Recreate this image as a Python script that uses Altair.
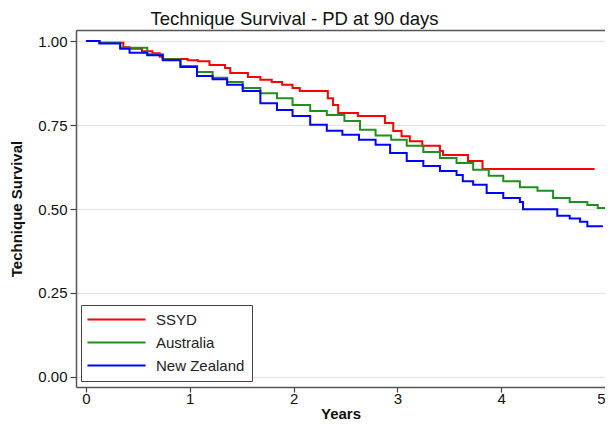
import altair as alt
import pandas as pd

groups = ["SSYD", "Australia", "New Zealand"]
colors = ["#ff0000", "#1f8f1f", "#0000ff"]

ssyd_years = [0, 0.13, 0.36, 0.42, 0.54, 0.64, 0.71, 0.74, 0.98, 1.08, 1.19, 1.34, 1.39,
              1.56, 1.68, 1.79, 1.89, 1.99, 2.06, 2.33, 2.38, 2.43, 2.62, 2.88, 2.96,
              3.04, 3.12, 3.24, 3.41, 3.44, 3.68, 3.82, 4.90]
ssyd_surv = [1.0, 0.995, 0.982, 0.977, 0.970, 0.964, 0.953, 0.947, 0.943, 0.940, 0.929,
             0.920, 0.905, 0.893, 0.885, 0.878, 0.870, 0.860, 0.851, 0.830, 0.810, 0.786,
             0.777, 0.756, 0.732, 0.717, 0.702, 0.688, 0.673, 0.661, 0.643, 0.619, 0.619]

aus_years = [0, 0.13, 0.33, 0.59, 0.74, 0.91, 1.07, 1.22, 1.36, 1.51, 1.68, 1.84, 1.99,
             2.16, 2.32, 2.49, 2.64, 2.79, 2.94, 3.09, 3.25, 3.41, 3.57, 3.73, 3.88,
             4.02, 4.18, 4.35, 4.50, 4.66, 4.83, 4.93, 5.0]
aus_surv = [1.0, 0.995, 0.980, 0.961, 0.946, 0.926, 0.908, 0.891, 0.878, 0.860, 0.845,
            0.830, 0.810, 0.792, 0.780, 0.762, 0.736, 0.719, 0.706, 0.688, 0.670, 0.652,
            0.637, 0.617, 0.599, 0.583, 0.565, 0.554, 0.533, 0.521, 0.512, 0.503, 0.503]

nz_years = [0, 0.13, 0.33, 0.42, 0.59, 0.74, 0.91, 1.07, 1.22, 1.36, 1.51, 1.68, 1.84,
            1.99, 2.16, 2.32, 2.47, 2.63, 2.79, 2.93, 3.09, 3.25, 3.41, 3.57, 3.63, 3.73,
            3.86, 4.02, 4.18, 4.21, 4.54, 4.66, 4.76, 4.83, 4.98]
nz_surv = [1.0, 0.993, 0.977, 0.965, 0.958, 0.943, 0.923, 0.896, 0.886, 0.870, 0.851,
           0.815, 0.795, 0.777, 0.751, 0.733, 0.721, 0.706, 0.691, 0.667, 0.643, 0.628,
           0.613, 0.601, 0.583, 0.572, 0.548, 0.533, 0.521, 0.499, 0.480, 0.472, 0.462,
           0.449, 0.449]

x_ticks = [0, 1, 2, 3, 4, 5]
y_ticks = [0, 0.25, 0.5, 0.75, 1.0]

rows = []
for name, ys, ss in [("SSYD", ssyd_years, ssyd_surv),
                     ("Australia", aus_years, aus_surv),
                     ("New Zealand", nz_years, nz_surv)]:
    for t, s in zip(ys, ss):
        rows.append({"group": name, "years": t, "surv": s})
df = pd.DataFrame(rows)

FONT = "Liberation Sans"
FRAME = "#555555"

x_scale = alt.Scale(domain=[-0.096, 5.0], nice=False, zero=False)
y_scale = alt.Scale(domain=[-0.03, 1.033], nice=False, zero=False)

lines = alt.Chart(df).mark_line(interpolate="step-after", strokeWidth=2).encode(
    x=alt.X("years:Q", scale=x_scale,
            axis=alt.Axis(values=x_ticks, format="d", title="Years", grid=False,
                          domain=True, domainColor=FRAME, domainWidth=1.5,
                          tickSize=5, tickColor="#444", tickWidth=1.2,
                          labelFontSize=15, labelPadding=-1, labelColor="#111",
                          labelFont=FONT, titleFont=FONT, titleFontSize=15,
                          titleFontWeight="bold", titleColor="#111", titlePadding=0)),
    y=alt.Y("surv:Q", scale=y_scale,
            axis=alt.Axis(values=y_ticks, format=".2f", title="Technique Survival",
                          grid=True, gridColor="#e6e6e6", gridWidth=1.5,
                          domain=True, domainColor=FRAME, domainWidth=1.5,
                          tickSize=6, tickColor="#444", tickWidth=1.2,
                          labelFontSize=15, labelPadding=3, labelColor="#111",
                          labelFont=FONT, titleFont=FONT, titleFontSize=15,
                          titleFontWeight="bold", titleColor="#111", titlePadding=13)),
    color=alt.Color("group:N",
                    scale=alt.Scale(domain=groups, range=colors),
                    legend=alt.Legend(title=None, orient="none", legendX=5, legendY=275,
                                      symbolType="M-5,0H5", symbolSize=135,
                                      symbolStrokeWidth=2, symbolOffset=21,
                                      labelFontSize=15, labelFont=FONT,
                                      labelColor="#222", labelOffset=32,
                                      padding=7, rowPadding=7, strokeColor="#444",
                                      fillColor="white")),
)

top_edge = alt.Chart(df).mark_point(opacity=0).encode(
    x=alt.X("years:Q", scale=x_scale,
            axis=alt.Axis(orient="top", domain=True, domainColor=FRAME, domainWidth=1.5,
                          labels=False, ticks=False, grid=False, title=None)),
)

chart = alt.layer(lines, top_edge).resolve_axis(x="independent").properties(
    width=529, height=357,
    title=alt.TitleParams("Technique Survival - PD at 90 days", font=FONT, fontSize=18.5,
                          fontWeight="normal", color="#111", anchor="middle", dx=-46,
                          frame="group", offset=2),
    autosize=alt.AutoSizeParams(type="none"),
    padding={"left": 68, "top": 22, "right": 0, "bottom": 34},
).configure_view(stroke=None)

chart.save("out.html", embed_options={"renderer": "svg", "actions": False})
